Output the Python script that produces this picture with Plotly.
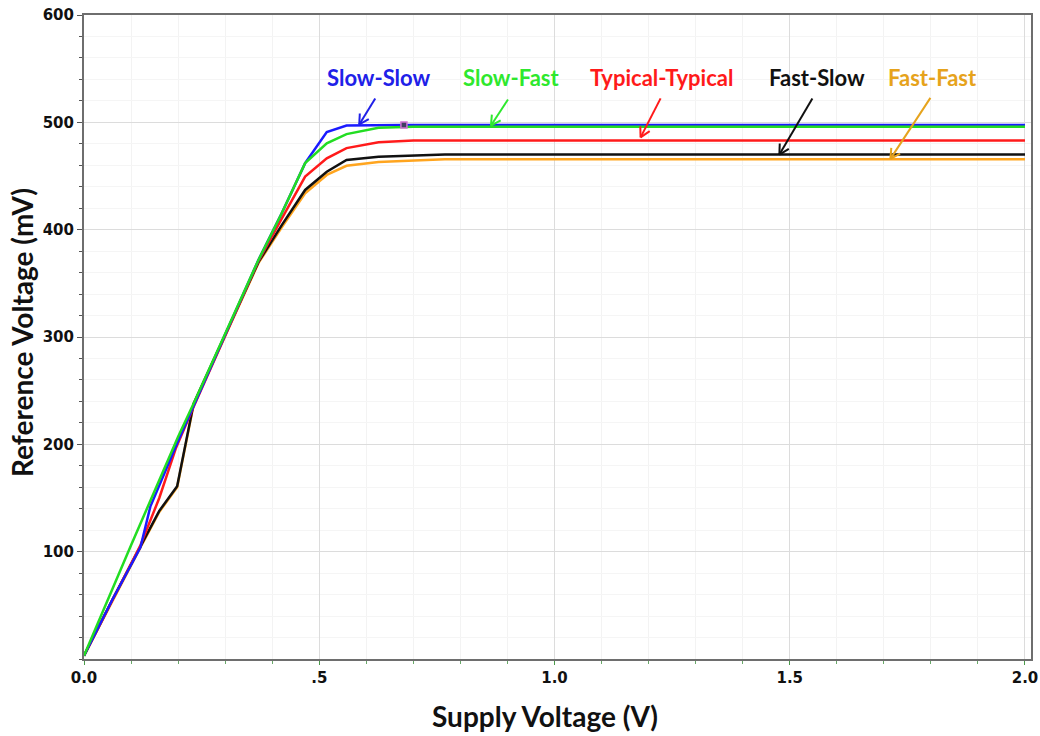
import math
import plotly.graph_objects as go

# Supply voltage (V) vs reference voltage (mV) for five process corners
supply_ss = [0.0, 0.06, 0.12, 0.141, 0.2, 0.233, 0.3, 0.371, 0.42, 0.47, 0.516, 0.558, 0.68, 2.0]
vref_ss = [3, 55, 104, 142, 203, 236, 302, 372, 415, 462, 491, 497, 497.5, 497.5]

supply_sf = [0.0, 0.1, 0.2, 0.233, 0.3, 0.371, 0.42, 0.47, 0.516, 0.558, 0.626, 0.7, 2.0]
vref_sf = [3, 106, 207, 238, 303, 372, 415, 462, 480.5, 489, 495, 496, 496]

supply_tt = [0.0, 0.06, 0.12, 0.16, 0.195, 0.233, 0.3, 0.371, 0.42, 0.47, 0.516, 0.558, 0.626, 0.7, 2.0]
vref_tt = [3, 55, 106, 150, 196, 235, 301, 371, 410, 449.5, 466.5, 476, 481.5, 483, 483]

supply_fs = [0.0, 0.06, 0.12, 0.16, 0.198, 0.233, 0.3, 0.371, 0.42, 0.47, 0.516, 0.558, 0.626, 0.767, 2.0]
vref_fs = [3, 55, 105, 138, 161, 238, 302, 370, 404, 437, 454, 465, 468, 470, 470]

supply_ff = [0.0, 0.06, 0.12, 0.16, 0.198, 0.233, 0.3, 0.371, 0.42, 0.47, 0.516, 0.558, 0.626, 0.767, 2.0]
vref_ff = [3, 54, 104, 137, 160, 237, 301, 369, 402, 434, 451, 459.5, 463, 465.5, 465.5]

corner_names = ["Slow-Slow", "Slow-Fast", "Typical-Typical", "Fast-Slow", "Fast-Fast"]
line_colors = ["#1a1aff", "#22dd22", "#ff1a1a", "#111111", "#ffa51f"]
label_colors = ["#2020e8", "#2ee82e", "#ff1a1a", "#111111", "#e6a31c"]

x_tick_vals = [0, 0.5, 1.0, 1.5, 2.0]
x_tick_text = ["0.0", ".5", "1.0", "1.5", "2.0"]
y_tick_vals = [100, 200, 300, 400, 500, 600]

# label centres (x in V, y in mV) and arrow tips / tail offsets (screen px)
label_x = [0.627, 0.907, 1.228, 1.558, 1.804]
label_y = 542
arrow_tip_x = [0.585, 0.865, 1.183, 1.478, 1.714]
arrow_tip_y = [498, 497, 486, 470, 466]
arrow_tail_dx = [16, 17, 20, 33, 40]
arrow_tail_dy = [-26, -26, -39, -56, -61]

X_MAX, Y_MAX = 2.0128, 600
W, H = 1040, 736
M_L, M_R, M_T, M_B = 84, 9, 15, 77
PW, PH = W - M_L - M_R, H - M_T - M_B
KX, KY = X_MAX / PW, Y_MAX / PH  # data units per pixel

series = [
    (supply_ss, vref_ss),
    (supply_sf, vref_sf),
    (supply_tt, vref_tt),
    (supply_fs, vref_fs),
    (supply_ff, vref_ff),
]

fig = go.Figure()
for idx in [4, 3, 2, 0, 1]:
    xs, ys = series[idx]
    fig.add_trace(go.Scatter(
        x=xs, y=ys, mode="lines", name=corner_names[idx],
        line=dict(color=line_colors[idx], width=2.5),
        showlegend=False, hoverinfo="skip",
    ))

# small cursor marker sitting on the Slow-Slow curve
mk = supply_ss.index(0.68)
fig.add_trace(go.Scatter(
    x=[supply_ss[mk]], y=[vref_ss[mk]], mode="markers",
    marker=dict(symbol="square", size=6, color="#404060",
                line=dict(color="#d070d0", width=1.5)),
    showlegend=False, hoverinfo="skip",
))

shapes = []
annotations = []
for i, name in enumerate(corner_names):
    annotations.append(dict(
        x=label_x[i], y=label_y, xref="x", yref="y", text=name,
        showarrow=False, xanchor="center", yanchor="middle",
        font=dict(family="Lato", size=22, color=label_colors[i], weight="bold"),
    ))
    tx, ty = arrow_tip_x[i], arrow_tip_y[i]
    dx, dy = arrow_tail_dx[i], arrow_tail_dy[i]
    tail_x = tx + dx * KX
    tail_y = ty - dy * KY
    shapes.append(dict(type="line", xref="x", yref="y",
                       x0=tail_x, y0=tail_y, x1=tx, y1=ty,
                       line=dict(color=label_colors[i], width=2)))
    # open V head, built in screen space then mapped back to data units
    L = math.hypot(dx, dy)
    ux, uy = dx / L, dy / L  # direction from tip back toward tail
    for ang in (0.5, -0.5):
        ca, sa = math.cos(ang), math.sin(ang)
        hx = (ux * ca - uy * sa) * 11
        hy = (ux * sa + uy * ca) * 11
        shapes.append(dict(type="line", xref="x", yref="y",
                           x0=tx, y0=ty, x1=tx + hx * KX, y1=ty - hy * KY,
                           line=dict(color=label_colors[i], width=2)))

title_font = dict(family="Lato", size=28, color="#111111", weight="bold")
# axis titles placed in paper space so the plot box stays fixed
annotations.append(dict(
    text="Supply Voltage (V)", xref="paper", yref="paper",
    x=(545 - M_L) / PW, y=-(716 - (H - M_B)) / PH,
    showarrow=False, xanchor="center", yanchor="middle", font=title_font,
))
annotations.append(dict(
    text="Reference Voltage (mV)", xref="paper", yref="paper",
    x=(22 - M_L) / PW, y=((H - M_B) - 333) / PH, textangle=-90,
    showarrow=False, xanchor="center", yanchor="middle", font=title_font,
))

tick_font = dict(family="DejaVu Sans", size=15, color="#111111", weight="bold")

fig.update_layout(
    width=W, height=H,
    margin=dict(l=M_L, r=M_R, t=M_T, b=M_B, pad=0),
    paper_bgcolor="white", plot_bgcolor="white",
    shapes=shapes, annotations=annotations,
    xaxis=dict(
        range=[0, X_MAX], tickvals=x_tick_vals, ticktext=x_tick_text,
        tickfont=tick_font, ticks="outside", ticklen=4, tickcolor="#4a9a4a",
        showline=True, linecolor="#6e6e6e", linewidth=2, mirror=True,
        showgrid=True, gridcolor="#dcdcdc", gridwidth=1, zeroline=False,
        automargin=False,
        minor=dict(dtick=0.1, ticks="outside", ticklen=3, tickcolor="#6aa86a",
                   showgrid=True, gridcolor="#f3f3f3"),
    ),
    yaxis=dict(
        range=[0, Y_MAX], tickvals=y_tick_vals,
        tickfont=tick_font, ticks="outside", ticklen=5, tickcolor="#555555",
        showline=True, linecolor="#6e6e6e", linewidth=2, mirror=True,
        showgrid=True, gridcolor="#dcdcdc", gridwidth=1, zeroline=False,
        automargin=False,
        minor=dict(dtick=20, ticks="outside", ticklen=3, tickcolor="#555555",
                   showgrid=True, gridcolor="#f5f5f5"),
    ),
)

fig.write_html("out.html")
